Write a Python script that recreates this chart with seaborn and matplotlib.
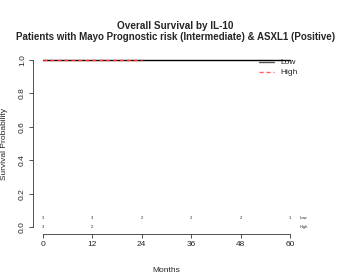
import pandas as pd
import matplotlib
matplotlib.use("Agg")
import matplotlib.pyplot as plt
import seaborn as sns

# Kaplan-Meier curves (step points)
low_months = [0, 60]
low_surv = [1.0, 1.0]
high_months = [0, 24]
high_surv = [1.0, 1.0]

risk_times = [0, 12, 24, 36, 48, 60]
risk_low = [3, 3, 2, 2, 2, 1]
risk_high = [3, 2]

x_ticks = [0, 12, 24, 36, 48, 60]
y_ticks = [0.0, 0.2, 0.4, 0.6, 0.8, 1.0]

sns.set_style("white")
plt.rcParams['font.family'] = ['Liberation Sans', 'DejaVu Sans']

df = pd.concat([
    pd.DataFrame({'Months': low_months, 'Survival': low_surv, 'Group': 'Low'}),
    pd.DataFrame({'Months': high_months, 'Survival': high_surv, 'Group': 'High'}),
])

fig = plt.figure(figsize=(3.4, 2.77), dpi=100)
ax = fig.add_axes([0.097, 0.155, 0.785, 0.653])

sns.lineplot(data=df, x='Months', y='Survival', hue='Group', style='Group',
             palette={'Low': 'black', 'High': '#ff3030'},
             dashes={'Low': '', 'High': (3, 2)},
             drawstyle='steps-post', linewidth=1.0, ax=ax, legend=False)

ax.set_xlim(-2.4, 62.4)
ax.set_ylim(-0.04, 1.04)
ax.set_xticks(x_ticks)
ax.set_xticklabels([str(t) for t in x_ticks], fontsize=6)
ax.set_yticks(y_ticks)
ax.set_yticklabels([f"{t:.1f}" for t in y_ticks], fontsize=6, rotation=90, va='center')
ax.tick_params(axis='both', direction='out', length=3, width=0.6, color='#333333',
               bottom=True, left=True, pad=2)

for side in ['top', 'right']:
    ax.spines[side].set_visible(False)
ax.spines['bottom'].set_bounds(0, 60)
ax.spines['left'].set_bounds(0, 1)
ax.spines['bottom'].set_linewidth(0.6)
ax.spines['left'].set_linewidth(0.6)
ax.spines['bottom'].set_color('#333333')
ax.spines['left'].set_color('#333333')

ax.set_xlabel('Months', fontsize=6, labelpad=14)
ax.set_ylabel('Survival Probability', fontsize=6)
ax.yaxis.set_label_coords(-0.092, 0.5)

# numbers at risk
for t, n in zip(risk_times, risk_low):
    ax.text(t, 0.057, str(n), fontsize=3, ha='center', va='center', color='#222222')
for t, n in zip(risk_times, risk_high):
    ax.text(t, 0.0, str(n), fontsize=3, ha='center', va='center', color='#222222')
ax.text(62.3, 0.057, 'Low', fontsize=3, ha='left', va='center', color='#222222')
ax.text(62.3, 0.0, 'High', fontsize=3, ha='left', va='center', color='#222222')

# legend
ax.plot([52.5, 56], [0.985, 0.985], color='#555555', lw=1.0)
ax.plot([52.5, 56], [0.925, 0.925], color='#ff6060', lw=1.0, dashes=(3, 2))
ax.text(57.6, 0.985, 'Low', fontsize=6, va='center', ha='left')
ax.text(57.6, 0.925, 'High', fontsize=6, va='center', ha='left')

fig.text(0.515, 0.905, 'Overall Survival by IL-10', fontsize=7.2, fontweight='bold',
         ha='center', va='center')
fig.text(0.515, 0.865, 'Patients with Mayo Prognostic risk (Intermediate) & ASXL1 (Positive)',
         fontsize=7, fontweight='bold', ha='center', va='center')

fig.savefig('out.png', dpi=100)
